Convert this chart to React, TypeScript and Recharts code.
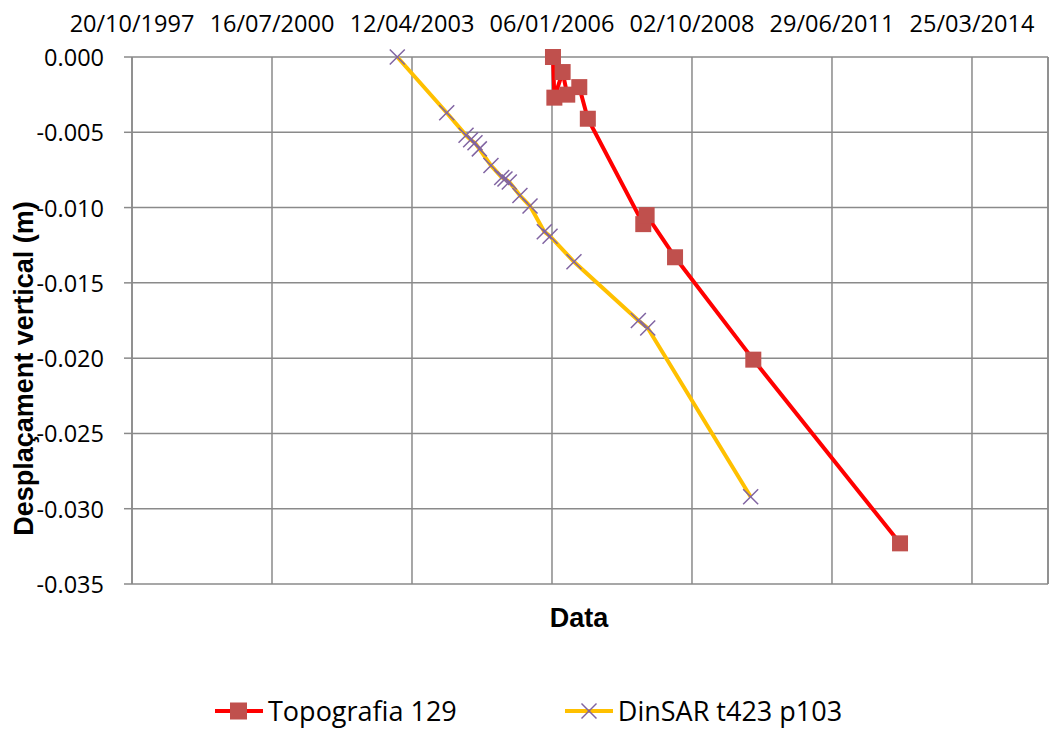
import React from 'react';
import { LineChart, Line, XAxis, YAxis, CartesianGrid, ReferenceLine, Legend, Label } from 'recharts';

// ---- data ----
const xTickLabels = ['20/10/1997', '16/07/2000', '12/04/2003', '06/01/2006', '02/10/2008', '29/06/2011', '25/03/2014'];
const xAxisEndLabel = '19/09/2015';
const yTicks = [0, -0.005, -0.01, -0.015, -0.02, -0.025, -0.03, -0.035];

const topoDates = ['2006-01-13', '2006-01-23', '2006-03-23', '2006-04-25', '2006-07-20', '2006-09-19', '2007-10-20', '2007-11-13', '2008-06-03', '2009-12-14', '2012-10-27'];
const topoValues = [0, -0.0027, -0.001, -0.0025, -0.002, -0.0041, -0.0111, -0.0105, -0.0133, -0.0201, -0.0323];

const dinDates = ['2002-12-28', '2003-12-16', '2004-05-02', '2004-06-04', '2004-07-05', '2004-08-05', '2004-10-27', '2005-01-12', '2005-02-04', '2005-03-07', '2005-05-22', '2005-08-02', '2005-11-12', '2005-12-23', '2006-06-12', '2007-09-15', '2007-11-21', '2009-11-25'];
const dinValues = [0, -0.0037, -0.0052, -0.0055, -0.0057, -0.0061, -0.0072, -0.008, -0.0081, -0.0083, -0.0092, -0.0099, -0.0116, -0.0119, -0.0136, -0.0175, -0.018, -0.0292];

const seriesNames = ['Topografia 129', 'DinSAR t423 p103'];

// ---- helpers ----
const isoToSerial = (iso: string) => {
  const [y, m, d] = iso.split('-').map(Number);
  return Date.UTC(y, m - 1, d) / 86400000 + 25569;
};
const dmyToSerial = (s: string) => {
  const [d, m, y] = s.split('/').map(Number);
  return Date.UTC(y, m - 1, d) / 86400000 + 25569;
};
const serialToDmy = (n: number) => {
  const dt = new Date(Math.round((n - 25569) * 86400000));
  const dd = String(dt.getUTCDate()).padStart(2, '0');
  const mm = String(dt.getUTCMonth() + 1).padStart(2, '0');
  return `${dd}/${mm}/${dt.getUTCFullYear()}`;
};

const xTicks = xTickLabels.map(dmyToSerial);
const xMin = xTicks[0];
const xMax = dmyToSerial(xAxisEndLabel);

const topoData = topoDates.map((d, i) => ({ x: isoToSerial(d), y: topoValues[i] }));
const dinData = dinDates.map((d, i) => ({ x: isoToSerial(d), y: dinValues[i] }));

const GRID = '#8a8a8a';
const RED = '#FF0000';
const SQUARE = '#C0504D';
const ORANGE = '#FFC000';
const PURPLE = '#8064A2';
const TICK_FONT = '"Open Sans", sans-serif';
const TITLE_FONT = '"Liberation Sans", Arial, sans-serif';

const SquareDot = (props: any) => {
  const { cx, cy, index } = props;
  if (cx == null || cy == null) return <g key={`s${index}`} />;
  return <rect key={`s${index}`} x={cx - 8} y={cy - 8} width={16} height={16} fill={SQUARE} />;
};
const CrossDot = (props: any) => {
  const { cx, cy, index } = props;
  if (cx == null || cy == null) return <g key={`c${index}`} />;
  const r = 7.5;
  return (
    <g key={`c${index}`} stroke={PURPLE} strokeWidth={1.5}>
      <line x1={cx - r} y1={cy - r} x2={cx + r} y2={cy + r} />
      <line x1={cx - r} y1={cy + r} x2={cx + r} y2={cy - r} />
    </g>
  );
};

const XTick = (props: any) => {
  const { x, y, payload } = props;
  return (
    <text x={x} y={y - 25} textAnchor="middle" fontFamily={TICK_FONT} fontSize={23.5} fill="#000">
      {serialToDmy(payload.value)}
    </text>
  );
};
const YTick = (props: any) => {
  const { x, y, payload } = props;
  const v = payload.value;
  return (
    <text x={x} y={y + 9} textAnchor="end" fontFamily={TICK_FONT} fontSize={23.5} fill="#000">
      {Math.abs(v) < 1e-12 ? '0.000' : v.toFixed(3)}
    </text>
  );
};

const LegendContent = () => (
  <div style={{ display: 'flex', alignItems: 'center', paddingLeft: 215, height: 40, fontFamily: TICK_FONT, fontSize: 27, color: '#000' }}>
    <svg width={48} height={20} style={{ display: 'block' }}>
      <line x1={0} y1={10} x2={48} y2={10} stroke={RED} strokeWidth={4} />
      <rect x={15} y={1.5} width={17} height={17} fill={SQUARE} />
    </svg>
    <span style={{ marginLeft: 5, lineHeight: '40px' }}>{seriesNames[0]}</span>
    <svg width={48} height={20} style={{ display: 'block', marginLeft: 108 }}>
      <line x1={0} y1={10} x2={48} y2={10} stroke={ORANGE} strokeWidth={4} />
      <line x1={16.5} y1={2.5} x2={31.5} y2={17.5} stroke={PURPLE} strokeWidth={1.5} />
      <line x1={16.5} y1={17.5} x2={31.5} y2={2.5} stroke={PURPLE} strokeWidth={1.5} />
    </svg>
    <span style={{ marginLeft: 5, lineHeight: '40px' }}>{seriesNames[1]}</span>
  </div>
);

export default function App() {
  return (
    <div style={{ position: 'absolute', left: 0, top: 0, width: 1049, height: 731, background: '#fff' }}>
      <LineChart width={1049} height={731} margin={{ top: 0, right: 1, bottom: 0, left: 0 }}>
        <CartesianGrid stroke={GRID} strokeWidth={1.5} />
        <XAxis
          xAxisId={0}
          dataKey="x"
          type="number"
          orientation="top"
          domain={[xMin, xMax]}
          ticks={xTicks}
          allowDataOverflow
          height={57}
          tick={<XTick />}
          tickLine={false}
          axisLine={false}
          tickSize={0}
          tickMargin={0}
          interval={0}
        />
        <XAxis
          xAxisId="b"
          dataKey="x"
          type="number"
          orientation="bottom"
          domain={[xMin, xMax]}
          height={107}
          tick={false}
          tickLine={false}
          axisLine={false}
        >
          <Label
            content={(p: any) => {
              const vb = p.viewBox || {};
              return (
                <text x={vb.x + vb.width / 2 - 11} y={vb.y + 43} textAnchor="middle" fontFamily={TITLE_FONT} fontWeight="bold" fontSize={27} fill="#000">
                  Data
                </text>
              );
            }}
          />
        </XAxis>
        <YAxis
          type="number"
          domain={[-0.035, 0]}
          ticks={yTicks}
          width={132}
          tick={<YTick />}
          tickSize={8}
          tickMargin={20}
          tickLine={{ stroke: GRID, strokeWidth: 1.5 }}
          axisLine={{ stroke: GRID, strokeWidth: 1.5 }}
          interval={0}
        >
          <Label
            content={(p: any) => {
              const vb = p.viewBox || {};
              const cx = vb.x + 33;
              const cy = vb.y + vb.height / 2 + 48;
              return (
                <text x={cx} y={cy} transform={`rotate(-90 ${cx} ${cy})`} textAnchor="middle" fontFamily={TITLE_FONT} fontWeight="bold" fontSize={27} fill="#000">
                  Desplaçament vertical (m)
                </text>
              );
            }}
          />
        </YAxis>
        <ReferenceLine x={xMax} stroke={GRID} strokeWidth={1.5} />
        <Legend verticalAlign="bottom" height={40} content={<LegendContent />} />
        <Line
          data={topoData}
          dataKey="y"
          name={seriesNames[0]}
          type="linear"
          stroke={RED}
          strokeWidth={4}
          dot={SquareDot}
          activeDot={false}
          isAnimationActive={false}
        />
        <Line
          data={dinData}
          dataKey="y"
          name={seriesNames[1]}
          type="linear"
          stroke={ORANGE}
          strokeWidth={4}
          dot={CrossDot}
          activeDot={false}
          isAnimationActive={false}
        />
      </LineChart>
    </div>
  );
}
